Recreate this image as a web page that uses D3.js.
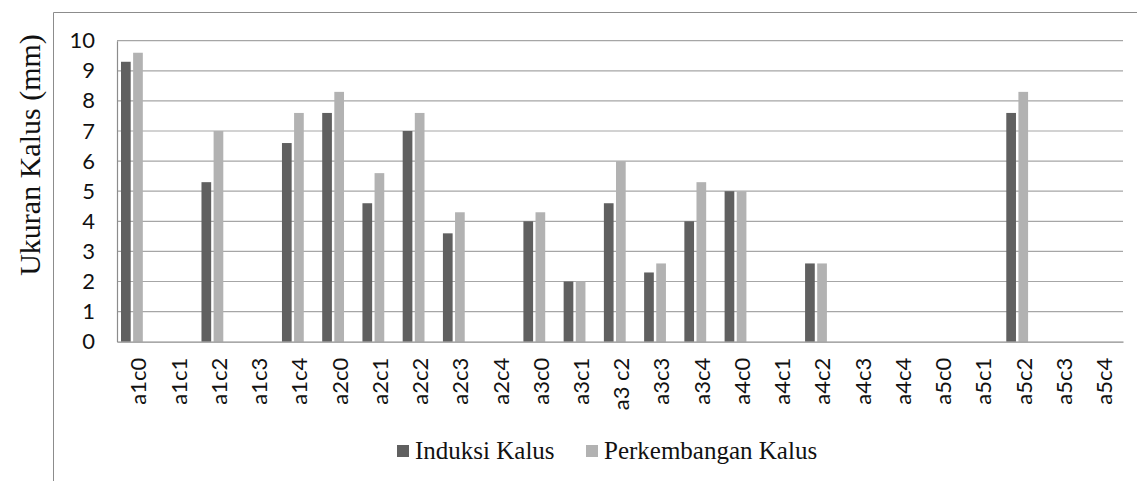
<!DOCTYPE html>
<html>
<head>
<meta charset="utf-8">
<script src="https://cdn.jsdelivr.net/npm/d3@7"></script>
<style>
  body { margin: 0; background: #ffffff; }
  svg { display: block; }
</style>
</head>
<body>
<div class="content"></div>
<script>
const categories = ["a1c0", "a1c1", "a1c2", "a1c3", "a1c4", "a2c0", "a2c1", "a2c2", "a2c3", "a2c4",
    "a3c0", "a3c1", "a3 c2", "a3c3", "a3c4", "a4c0", "a4c1", "a4c2", "a4c3", "a4c4",
    "a5c0", "a5c1", "a5c2", "a5c3", "a5c4"];
const induksiKalus = [9.3, 0, 5.3, 0, 6.6, 7.6, 4.6, 7.0, 3.6, 0,
    4.0, 2.0, 4.6, 2.3, 4.0, 5.0, 0, 2.6, 0, 0,
    0, 0, 7.6, 0, 0];
const perkembanganKalus = [9.6, 0, 7.0, 0, 7.6, 8.3, 5.6, 7.6, 4.3, 0,
    4.3, 2.0, 6.0, 2.6, 5.3, 5.0, 0, 2.6, 0, 0,
    0, 0, 8.3, 0, 0];
const seriesNames = ["Induksi Kalus", "Perkembangan Kalus"];
const seriesColors = ["#606060", "#b2b2b2"];
const yTicks = [0, 1, 2, 3, 4, 5, 6, 7, 8, 9, 10];

drawChart();

function drawChart() {
    const content = document.querySelector(".content");
    content.innerHTML = '<svg width="1137" height="481"></svg>';
    const svg = d3.select("svg");

    const left = 117, right = 1123, top = 40.7, bottom = 341.7;

    // outer chart frame (only top and left edges are visible in the crop)
    svg.append("path")
        .attr("d", "M53.5,481 V12.5 H1137")
        .attr("fill", "none")
        .attr("stroke", "#8c8c8c")
        .attr("stroke-width", 1);

    const x = d3.scaleBand().domain(categories).range([left, right]);
    // the source chart keeps room for three bars per category, only two are used
    const slot = d3.scaleBand().domain([0, 1, 2])
        .range([4, x.bandwidth() - 2.3]).paddingInner(0.2);
    const y = d3.scaleLinear().domain([0, 10]).range([bottom, top]);

    // horizontal gridlines
    svg.append("g")
        .selectAll("line")
        .data(yTicks.filter(t => t > 0))
        .join("line")
        .attr("x1", left)
        .attr("x2", right)
        .attr("y1", d => y(d))
        .attr("y2", d => y(d))
        .attr("stroke", "#a6a6a6")
        .attr("stroke-width", 1.2);

    // bars
    const series = [induksiKalus, perkembanganKalus];
    series.forEach((values, s) => {
        svg.append("g")
            .selectAll("rect")
            .data(values)
            .join("rect")
            .attr("x", (d, i) => x(categories[i]) + slot(s))
            .attr("y", d => y(d))
            .attr("width", slot.bandwidth())
            .attr("height", d => y(0) - y(d))
            .attr("fill", seriesColors[s]);
    });

    // y axis
    const yAxis = svg.append("g")
        .attr("transform", `translate(${left},0)`)
        .call(d3.axisLeft(y).tickValues(yTicks).tickSize(0).tickPadding(22));
    yAxis.select(".domain").attr("stroke", "#8c8c8c").attr("stroke-width", 1.2);
    yAxis.selectAll("text")
        .attr("font-family", "Lato, 'Open Sans', sans-serif")
        .attr("font-size", 22)
        .attr("fill", "#111");

    // x axis
    const xAxis = svg.append("g")
        .attr("transform", `translate(0,${bottom})`)
        .call(d3.axisBottom(x).tickSize(0));
    xAxis.select(".domain").attr("stroke", "#8c8c8c").attr("stroke-width", 1.2);
    xAxis.selectAll("text")
        .attr("font-family", "Lato, 'Open Sans', sans-serif")
        .attr("font-size", 22)
        .attr("fill", "#111")
        .attr("transform", "rotate(-90)")
        .attr("text-anchor", "end")
        .attr("x", -16)
        .attr("y", 0)
        .attr("dy", "0.42em");

    // y axis title
    svg.append("text")
        .attr("transform", "translate(40,155) rotate(-90)")
        .attr("text-anchor", "middle")
        .attr("font-family", "'Liberation Serif', 'Times New Roman', serif")
        .attr("font-size", 30)
        .attr("fill", "#111")
        .text("Ukuran Kalus (mm)");

    // legend
    const legendX = [397, 586];
    const legend = svg.append("g");
    seriesNames.forEach((name, s) => {
        legend.append("rect")
            .attr("x", legendX[s])
            .attr("y", 445)
            .attr("width", 12)
            .attr("height", 12)
            .attr("fill", seriesColors[s]);
        legend.append("text")
            .attr("x", legendX[s] + 18)
            .attr("y", 459)
            .attr("font-family", "'Liberation Serif', 'Times New Roman', serif")
            .attr("font-size", 25)
            .attr("fill", "#111")
            .text(name);
    });
}
</script>
</body>
</html>
